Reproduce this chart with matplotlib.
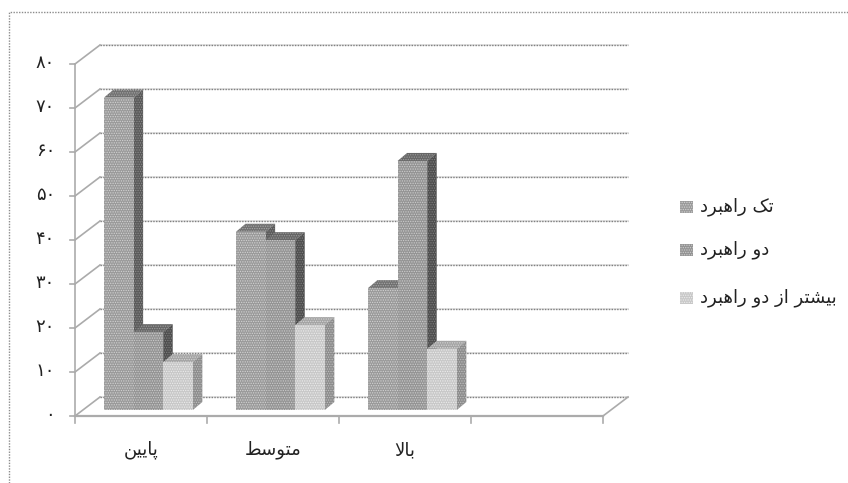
import numpy as np
import matplotlib
matplotlib.use("Agg")
import matplotlib.pyplot as plt
from matplotlib.patches import Polygon, Rectangle

plt.rcParams['font.family'] = ['DejaVu Sans']
plt.rcParams['hatch.linewidth'] = 0.6

categories = ['پایین', 'متوسط', 'بالا']
series_names = ['تک راهبرد', 'دو راهبرد', 'بیشتر از دو راهبرد']
tek = [71, 40.5, 27.7]
dou = [17.7, 38.6, 56.6]
bishtar = [10.9, 19.3, 13.9]
y_ticks = [0, 10, 20, 30, 40, 50, 60, 70, 80]
y_labels = ['۰', '۱۰', '۲۰', '۳۰', '۴۰', '۵۰', '۶۰', '۷۰', '۸۰']

# (face, dither) colours of the front, side and top of each series
colors = [(('#9a9a9a', '#d2d2d2'), ('#5a5a5a', '#8c8c8c'), ('#707070', '#a8a8a8')),
          (('#949494', '#cccccc'), ('#4e4e4e', '#808080'), ('#666666', '#9c9c9c')),
          (('#c8c8c8', '#ececec'), ('#8c8c8c', '#c0c0c0'), ('#a4a4a4', '#d4d4d4'))]

# matplotlib does not join arabic letters, so pick the joined forms by hand
# letter: isolated, final, initial, medial
forms = {
    'ا': (0xFE8D, 0xFE8E), 'د': (0xFEA9, 0xFEAA), 'ر': (0xFEAD, 0xFEAE),
    'ز': (0xFEAF, 0xFEB0), 'و': (0xFEED, 0xFEEE),
    'ب': (0xFE8F, 0xFE90, 0xFE91, 0xFE92), 'پ': (0xFB56, 0xFB57, 0xFB58, 0xFB59),
    'ت': (0xFE95, 0xFE96, 0xFE97, 0xFE98), 'س': (0xFEB1, 0xFEB2, 0xFEB3, 0xFEB4),
    'ش': (0xFEB5, 0xFEB6, 0xFEB7, 0xFEB8), 'ط': (0xFEC1, 0xFEC2, 0xFEC3, 0xFEC4),
    'ک': (0xFB8E, 0xFB8F, 0xFB90, 0xFB91), 'ل': (0xFEDD, 0xFEDE, 0xFEDF, 0xFEE0),
    'م': (0xFEE1, 0xFEE2, 0xFEE3, 0xFEE4), 'ن': (0xFEE5, 0xFEE6, 0xFEE7, 0xFEE8),
    'ه': (0xFEE9, 0xFEEA, 0xFEEB, 0xFEEC), 'ی': (0xFBFC, 0xFBFD, 0xFBFE, 0xFBFF),
}


def shape(text):
    out = []
    joined = False
    i = 0
    while i < len(text):
        c = text[i]
        if c not in forms:
            out.append(c)
            joined = False
            i += 1
            continue
        # lam + alef is one glyph
        if c == 'ل' and i + 1 < len(text) and text[i + 1] == 'ا':
            out.append(chr(0xFEFC if joined else 0xFEFB))
            joined = False
            i += 2
            continue
        f = forms[c]
        nxt = i + 1 < len(text) and text[i + 1] in forms
        if len(f) == 4 and nxt:
            out.append(chr(f[3] if joined else f[2]))
            joined = True
        else:
            out.append(chr(f[1] if joined else f[0]))
            joined = False
        i += 1
    return ''.join(out[::-1])


W, H = 848, 483
fig = plt.figure(figsize=(W / 100, H / 100), dpi=100)
ax = fig.add_axes([0, 0, 1, 1])

# one category is 132 px, ten units are 44 px, zero sits at y=416 px
px_x = 1 / 132
px_y = 1 / 4.4
ax.set_xlim(-75 * px_x, (W - 75) * px_x)
ax.set_ylim(-(H - 416) * px_y, 416 * px_y)
ax.axis('off')

grid_c = '#808080'
soft_c = '#dedede'
axis_c = '#ababab'
dots = (0, (1, 1))
wall_x = 25 * px_x
wall_y = 19 * px_y
n_cat = 4

# outer frame, only the top and left edges are inside the picture
ax.plot([9 / W, 9 / W, 1], [0, 1 - 12 / H, 1 - 12 / H], transform=ax.transAxes,
        color='#8c8c8c', lw=1, ls=dots, clip_on=False)

# walls and grid
for v, lab in zip(y_ticks, y_labels):
    ax.plot([wall_x, n_cat + wall_x], [v + wall_y, v + wall_y], color=soft_c, lw=1.2, zorder=1)
    ax.plot([wall_x, n_cat + wall_x], [v + wall_y, v + wall_y], color=grid_c, lw=1, ls=dots, zorder=1)
    ax.plot([0, wall_x], [v, v + wall_y], color=axis_c, lw=1.2, zorder=1)
    ax.plot([-5 * px_x, 0], [v, v], color=axis_c, lw=1.2, zorder=1)
    ax.text(-20 * px_x, v + 1.5 * px_y, lab, ha='right', va='center', fontsize=13, color='#222222')
ax.plot([0, 0], [0, 80], color=axis_c, lw=1.2, zorder=1)
ax.plot([0, n_cat], [0, 0], color=axis_c, lw=1.6, zorder=1)
ax.plot([n_cat, n_cat + wall_x], [0, wall_y], color=axis_c, lw=1.2, zorder=1)
for k in range(n_cat + 1):
    ax.plot([k, k], [0, -7 * px_y], color=axis_c, lw=1.2, zorder=1)

# bars
values = [tek, dou, bishtar]
bar_w = 29.6 * px_x
start = 29 * px_x
base = 6 * px_y
dx = 9.5 * px_x
dy = 8 * px_y
dither = '.......'
z = 3
for c in range(len(categories)):
    for s in range(3):
        v = values[s][c] + base
        x0 = c + start + s * bar_w
        front, side, top = colors[s]
        ax.add_patch(Polygon([(x0, v), (x0 + dx, v + dy), (x0 + bar_w + dx, v + dy), (x0 + bar_w, v)],
                             fc=top[0], ec=top[1], hatch=dither, lw=0, zorder=z))
        ax.add_patch(Polygon([(x0 + bar_w, base), (x0 + bar_w + dx, base + dy),
                              (x0 + bar_w + dx, v + dy), (x0 + bar_w, v)],
                             fc=side[0], ec=side[1], hatch=dither, lw=0, zorder=z))
        ax.bar(x0, v - base, bar_w, bottom=base, align='edge', color=front[0], hatch=dither,
               edgecolor=front[1], lw=0, zorder=z)
        z += 1

# category labels
for c, name in enumerate(categories):
    ax.text(c + 0.5, -34 * px_y, shape(name), ha='center', va='center', fontsize=13, color='#222222')

# legend
legend_y = [207, 250, 298]
for s, name in enumerate(series_names):
    y = (416 - legend_y[s]) * px_y
    ax.add_patch(Rectangle(((680 - 75) * px_x, y - 6 * px_y), 13 * px_x, 12 * px_y,
                           fc=colors[s][0][0], ec=colors[s][0][1], hatch=dither, lw=0, zorder=3))
    ax.text((700 - 75) * px_x, y, shape(name), ha='left', va='center', fontsize=13, color='#222222')

fig.savefig('out.png', dpi=100)
